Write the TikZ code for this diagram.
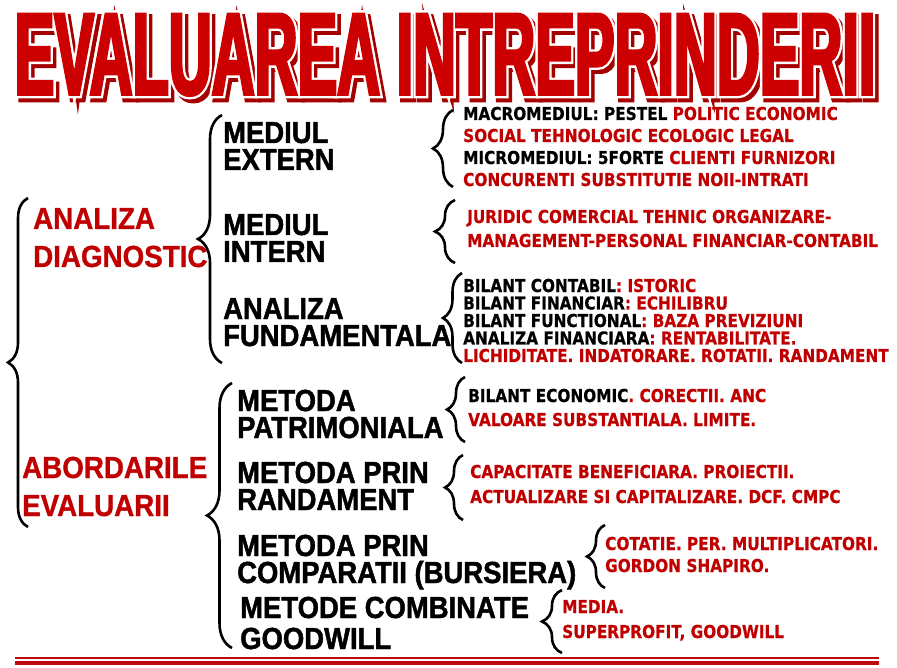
\documentclass[tikz,border=0pt]{standalone}
\usepackage{fontspec}
\usetikzlibrary{decorations.pathreplacing}
\setmainfont{Liberation Sans}
\newfontfamily\titlefont[FakeStretch=0.508,FakeBold=2.5]{Liberation Sans}
\newfontfamily\titleedge[FakeStretch=0.508,FakeBold=6.5]{Liberation Sans}
\newfontfamily\headfont[FakeStretch=0.91,FakeBold=1]{Liberation Sans}
\newfontfamily\subfont[FakeStretch=0.9,FakeBold=1.5]{Liberation Sans}
\newfontfamily\detfont[FakeStretch=0.86,FakeBold=0.6]{DejaVu Sans}
\definecolor{titlered}{RGB}{204,0,0}
\definecolor{shadowred}{RGB}{165,0,0}
\definecolor{textred}{RGB}{192,0,0}
\definecolor{rulered}{RGB}{190,12,12}
\newcommand{\rd}[1]{\textcolor{textred}{#1}}
\lineskiplimit=-50pt
\tikzset{
  ttl/.style={anchor=base west, inner sep=0pt},
  head/.style={anchor=base west, inner sep=0pt, align=left, text=textred,
    font=\headfont\bfseries\fontsize{30.5}{38}\selectfont},
  sub/.style={anchor=base west, inner sep=0pt, align=left,
    font=\subfont\bfseries\fontsize{30.5}{#1}\selectfont},
  sub/.default=27,
  det/.style={anchor=base west, inner sep=0pt, align=left,
    font=\detfont\bfseries\fontsize{17.8}{#1}\selectfont},
  det/.default=22,
  brc/.style={decorate, decoration={brace, amplitude=#1}, line width=2.6pt},
}
\begin{document}
\begin{tikzpicture}[x=1pt, y=-1pt]
  \useasboundingbox (0,0) rectangle (897,668);

  % Title
  \node[ttl, text=shadowred, font=\titleedge\bfseries\fontsize{117}{117}\selectfont] (titleshadow) at (18,98.5) {EVALUAREA INTREPRINDERII};
  \node[ttl, text=white, font=\titleedge\bfseries\fontsize{117}{117}\selectfont] (titlerim) at (14.5,94.5) {EVALUAREA INTREPRINDERII};
  \node[ttl, text=titlered, font=\titlefont\bfseries\fontsize{117}{117}\selectfont] (title) at (14.5,94.5) {EVALUAREA INTREPRINDERII};

  % Level 1 (placed at the last baseline)
  \node[head] (diag) at (33,267) {ANALIZA\\DIAGNOSTIC};
  \node[head] (abord) at (22,516) {ABORDARILE\\EVALUARII};

  % Level 2
  \node[sub] (ext) at (223,170) {MEDIUL\\EXTERN};
  \node[sub] (int) at (223,262) {MEDIUL\\INTERN};
  \node[sub] (fund) at (223,346) {ANALIZA\\FUNDAMENTALA};
  \node[sub] (patr) at (237,438) {METODA\\PATRIMONIALA};
  \node[sub] (rand) at (237,510) {METODA PRIN\\RANDAMENT};
  \node[sub] (comp) at (237,583) {METODA PRIN\\COMPARATII (BURSIERA)};
  \node[sub=31] (comb) at (240,649) {METODE COMBINATE\\GOODWILL};

  % Level 3
  \node[det] (extd) at (463,186) {MACROMEDIUL: PESTEL \rd{POLITIC ECONOMIC}\\\rd{SOCIAL TEHNOLOGIC ECOLOGIC LEGAL}\\MICROMEDIUL: 5FORTE \rd{CLIENTI FURNIZORI}\\\rd{CONCURENTI SUBSTITUTIE NOII-INTRATI}};
  \node[det=24] (intd) at (467,247) {\rd{JURIDIC COMERCIAL TEHNIC ORGANIZARE-}\\\rd{MANAGEMENT-PERSONAL FINANCIAR-CONTABIL}};
  \node[det=17.5] (fundd) at (463,362) {BILANT CONTABIL\rd{: ISTORIC}\\BILANT FINANCIAR\rd{: ECHILIBRU}\\BILANT FUNCTIONAL\rd{: BAZA PREVIZIUNI}\\ANALIZA FINANCIARA\rd{: RENTABILITATE.}\\\rd{LICHIDITATE. INDATORARE. ROTATII. RANDAMENT}};
  \node[det=24] (patrd) at (468,426) {BILANT ECONOMIC\rd{. CORECTII. ANC}\\\rd{VALOARE SUBSTANTIALA. LIMITE.}};
  \node[det=25] (randd) at (470,503) {\rd{CAPACITATE BENEFICIARA. PROIECTII.}\\\rd{ACTUALIZARE SI CAPITALIZARE. DCF. CMPC}};
  \node[det=22] (compd) at (605,572) {\rd{COTATIE. PER. MULTIPLICATORI.}\\\rd{GORDON SHAPIRO.}};
  \node[det=25] (combd) at (562,638) {\rd{MEDIA.}\\\rd{SUPERPROFIT, GOODWILL}};

  % Brace ends
  \coordinate (outert) at (28,198);   \coordinate (outerb) at (28,527);
  \coordinate (diagt) at (222,115);   \coordinate (diagb) at (222,363);
  \coordinate (abordt) at (232,383);  \coordinate (abordb) at (232,648);
  \coordinate (extt) at (453,110);    \coordinate (extb) at (453,187);
  \coordinate (intt) at (455,200);    \coordinate (intb) at (455,263);
  \coordinate (fundt) at (462,273);   \coordinate (fundb) at (462,363);
  \coordinate (patrt) at (465,377);   \coordinate (patrb) at (465,442);
  \coordinate (randt) at (463,455);   \coordinate (randb) at (463,520);
  \coordinate (compt) at (605,525);   \coordinate (compb) at (605,588);
  \coordinate (combt) at (562,590);   \coordinate (combb) at (562,653);

  % Braces
  \draw[brc=20] (outerb) -- (outert);
  \draw[brc=24] (diagb) -- (diagt);
  \draw[brc=25] (abordb) -- (abordt);
  \draw[brc=20] (extb) -- (extt);
  \draw[brc=20] (intb) -- (intt);
  \draw[brc=19] (fundb) -- (fundt);
  \draw[brc=18] (patrb) -- (patrt);
  \draw[brc=18] (randb) -- (randt);
  \draw[brc=18] (compb) -- (compt);
  \draw[brc=20] (combb) -- (combt);

  % Bottom rule
  \coordinate (rulel) at (15,658);  \coordinate (ruler) at (879,658);
  \draw[rulered, line width=1.2pt] (rulel) -- (ruler);
  \draw[rulered, line width=4pt] ([yshift=-5pt]rulel) -- ([yshift=-5pt]ruler);
\end{tikzpicture}
\end{document}
